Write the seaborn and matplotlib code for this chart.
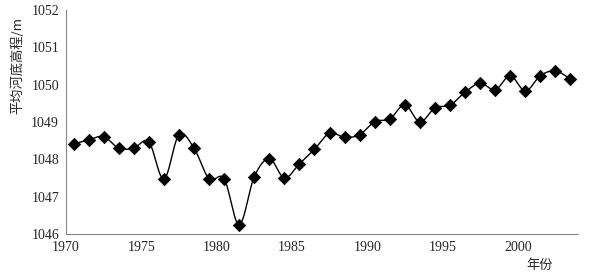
import numpy as np
import pandas as pd
import matplotlib
matplotlib.use("Agg")
import matplotlib.pyplot as plt
import seaborn as sns

years = list(range(1970, 2004))
elev = [1048.41, 1048.52, 1048.61, 1048.30, 1048.30, 1048.47, 1047.47, 1048.66,
        1048.30, 1047.48, 1047.48, 1046.25, 1047.53, 1048.02, 1047.50, 1047.88,
        1048.27, 1048.70, 1048.59, 1048.66, 1049.01, 1049.08, 1049.46, 1049.00,
        1049.38, 1049.45, 1049.80, 1050.04, 1049.86, 1050.24, 1049.83, 1050.24,
        1050.37, 1050.15]
xticks = [1970, 1975, 1980, 1985, 1990, 1995, 2000]
yticks = [1046, 1047, 1048, 1049, 1050, 1051, 1052]

sns.set_style("white")
plt.rcParams['font.family'] = ['Liberation Serif', 'Noto Sans CJK SC']

x = np.array(years, dtype=float) + 0.5
y = np.array(elev)
df = pd.DataFrame({"year": x, "elev": y})

# Excel-like smoothed line (Catmull-Rom via cubic Bezier)
P = np.column_stack([x, y])
Pext = np.vstack([P[0], P, P[-1]])
sx, sy = [], []
t = np.linspace(0, 1, 30)
for i in range(len(P) - 1):
    p0, p1, p2, p3 = Pext[i], Pext[i + 1], Pext[i + 2], Pext[i + 3]
    c1 = p1 + (p2 - p0) / 6
    c2 = p2 - (p3 - p1) / 6
    b = ((1 - t) ** 3)[:, None] * p1 + (3 * (1 - t) ** 2 * t)[:, None] * c1 \
        + (3 * (1 - t) * t ** 2)[:, None] * c2 + (t ** 3)[:, None] * p2
    sx.extend(b[:, 0]); sy.extend(b[:, 1])
smooth = pd.DataFrame({"year": sx, "elev": sy})

fig = plt.figure(figsize=(5.89, 2.77), dpi=100)
ax = fig.add_axes([66 / 589, 43 / 277, 512 / 589, 224 / 277])
sns.lineplot(data=smooth, x="year", y="elev", ax=ax, color="black", lw=1.0,
             sort=False, estimator=None)
sns.scatterplot(data=df, x="year", y="elev", ax=ax, marker="D", s=40,
                color="black", edgecolor="black", linewidth=0.5, zorder=3)

ax.set_xlim(1970, 2004)
ax.set_ylim(1046, 1052)
ax.set_xticks(xticks)
ax.set_yticks(yticks)
ax.set_xticklabels([str(v) for v in xticks], fontsize=10)
ax.set_yticklabels([str(v) for v in yticks], fontsize=10)
ax.tick_params(axis='x', direction='in', length=4, color='#888888', pad=5)
ax.tick_params(axis='y', direction='out', length=3, color='#888888', pad=2)
for s in ['top', 'right']:
    ax.spines[s].set_visible(False)
for s in ['left', 'bottom']:
    ax.spines[s].set_color('#888888')
    ax.spines[s].set_linewidth(0.8)
ax.set_xlabel("")
ax.set_ylabel("")
fig.text(18 / 589, 1 - 65 / 277, "平均河底高程/m", rotation=90, ha='center', va='center',
         fontsize=9.5, family=['Noto Sans CJK SC', 'DejaVu Sans'])
fig.text(540 / 589, 1 - 266 / 277, "年份", ha='center', va='center',
         fontsize=9.5, family=['Noto Sans CJK SC', 'DejaVu Sans'])
fig.savefig("out.png", dpi=100)
